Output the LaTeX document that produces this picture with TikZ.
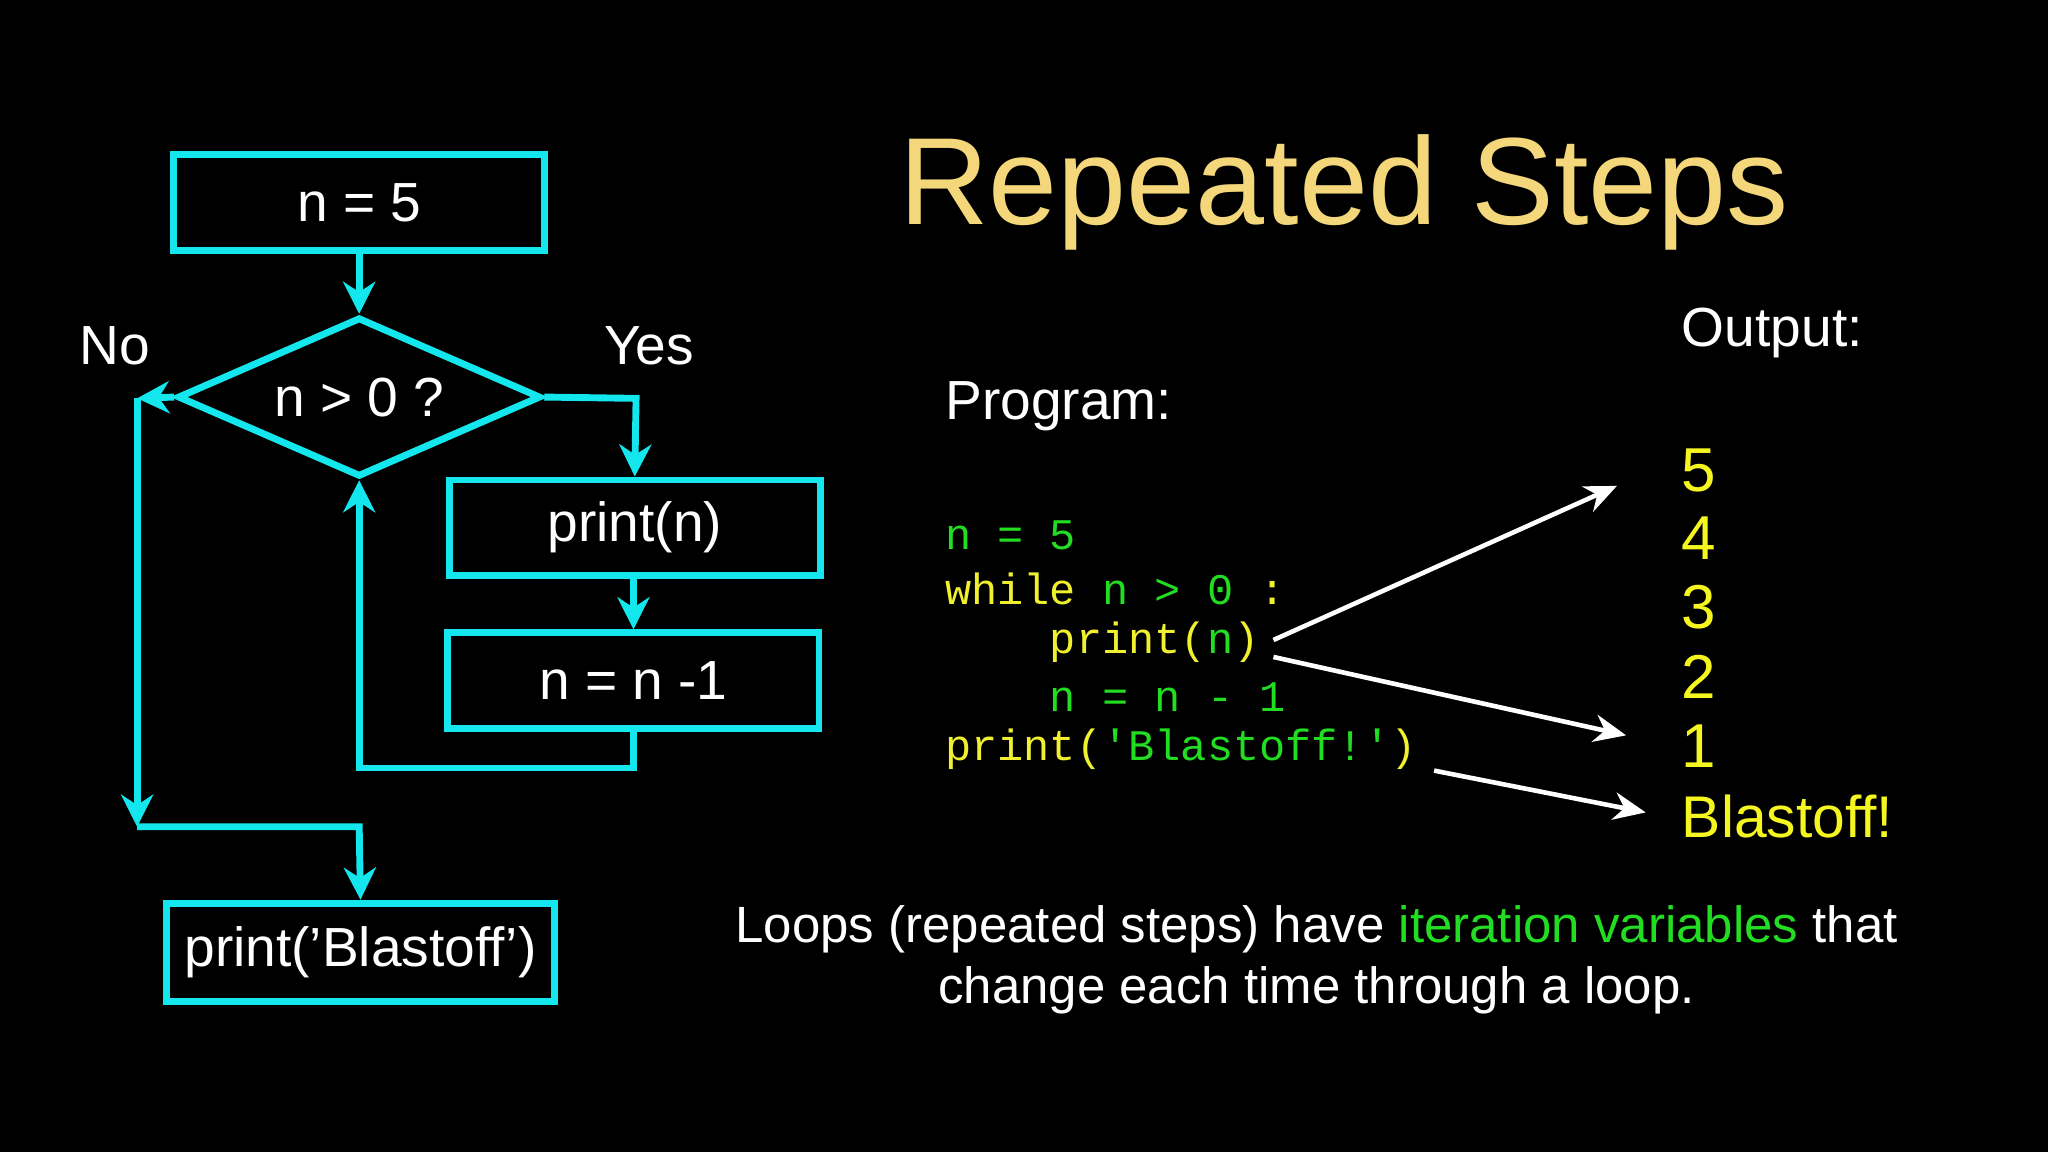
\documentclass[tikz,border=0pt]{standalone}
\usepackage{fontspec}
\setmainfont{Liberation Sans}
\setmonofont{Liberation Mono}
\usetikzlibrary{arrows.meta,shapes.geometric}
\definecolor{cy}{HTML}{14E6EE}
\definecolor{ttl}{HTML}{F3D77A}
\definecolor{cg}{HTML}{22DD22}
\definecolor{cyel}{HTML}{F0F030}
\definecolor{oy}{HTML}{F5F520}
\begin{document}
\begin{tikzpicture}[x=0.01cm,y=-0.01cm,
  fbox/.style={draw=cy,line width=1.5pt,minimum width=2.84cm,minimum height=0.73cm,inner sep=0pt,text=white,font=\fontsize{12}{14}\selectfont},
  flow/.style={draw=cy,line width=1.5pt,-{Stealth[length=7pt,width=7pt]}},
  warr/.style={draw=white,line width=1pt,-{Stealth[length=7pt,width=6pt]}},
  lab/.style={text=white,font=\fontsize{12}{14}\selectfont},
  code/.style={font=\ttfamily\fontsize{9.5}{11}\selectfont,anchor=west,inner sep=0pt},
  outn/.style={text=oy,font=\fontsize{13.5}{15}\selectfont,anchor=west,inner sep=0pt}]
\fill[black] (0,0) rectangle (1568,882);
\useasboundingbox (0,0) rectangle (1568,882);
% flowchart
\node[fbox] (n5) at (275,155) {n = 5};
\node[draw=cy,line width=1.5pt,diamond,aspect=2.25,minimum width=2.78cm,minimum height=1.22cm,inner sep=0pt,text=white,font=\fontsize{12}{14}\selectfont] (dec) at (275,304) {n > 0 ?};
\node[fbox] (pn) at (486,404) {print(n)};
\node[fbox] (dn) at (485,521) {n = n -1};
\node[fbox,minimum width=2.97cm,minimum height=0.75cm] (pb) at (276,729) {print(\symbol{39}Blastoff\symbol{39})};
\node[lab] (no) at (88,265) {No};
\node[lab] (yes) at (497,265) {Yes};
\coordinate (yr) at (487,305);
\coordinate (lb) at (485,588);
\coordinate (lc) at (275,588);
\coordinate (nl) at (105,305);
\coordinate (nd) at (105,633);
\coordinate (nr) at (275,633);
\draw[flow] (n5.south) -- (dec.north);
\draw[flow] (dec.east) -- (yr) -- (pn.north);
\draw[flow] (pn.south -| dn.north) -- (dn.north);
\draw[flow] (dn.south -| lb) -- (lb) -- (lc) -- (dec.south);
\draw[flow] (dec.west) -- (nl);
\draw[flow] (nl) -- (nd);
\draw[flow] (nd) -- (nr) -- (pb.north);
% title
\node[text=ttl,font=\fontsize{27}{31}\selectfont] (title) at (1029,147) {Repeated Steps};
\node[lab,anchor=west,inner sep=0pt] (prog) at (723,311) {Program:};
\node[lab,anchor=west,inner sep=0pt] (out) at (1287,255) {Output:};
% code
\node[code] (c1) at (723,410) {\textcolor{cg}{n = 5}};
\node[code] (c2) at (723,451) {\textcolor{cyel}{while} \textcolor{cg}{n > 0} \textcolor{cyel}{:}};
\node[code] (c3) at (723,492) {\phantom{\textcolor{cyel}{whil}}\textcolor{cyel}{print(}\textcolor{cg}{n}\textcolor{cyel}{)}};
\node[code] (c4) at (723,533) {\textcolor{cg}{\phantom{whil}n = n - 1}};
\node[code] (c5) at (723,574) {\textcolor{cyel}{print(}\textcolor{cg}{\symbol{39}Blastoff!\symbol{39}}\textcolor{cyel}{)}};
% output
\node[outn] (o5) at (1287,360) {5};
\node[outn] (o4) at (1287,412) {4};
\node[outn] (o3) at (1287,465) {3};
\node[outn] (o2) at (1287,518) {2};
\node[outn] (o1) at (1287,571) {1};
\node[outn,font=\fontsize{12.8}{15}\selectfont] (ob) at (1287,625) {Blastoff!};
\coordinate (a1s) at (975,490);
\coordinate (a1e) at (1238,372);
\coordinate (a2s) at (975,503);
\coordinate (a2e) at (1245,563);
\coordinate (a3s) at (1098,590);
\coordinate (a3e) at (1260,622);
\draw[warr] (a1s) -- (a1e);
\draw[warr] (a2s) -- (a2e);
\draw[warr] (a3s) -- (a3e);
% bottom text
\node[text=white,font=\fontsize{11.1}{13.4}\selectfont,align=center] (note) at (1008,735) {Loops (repeated steps) have \textcolor{cg}{iteration variables} that\\change each time through a loop.};
\end{tikzpicture}
\end{document}
